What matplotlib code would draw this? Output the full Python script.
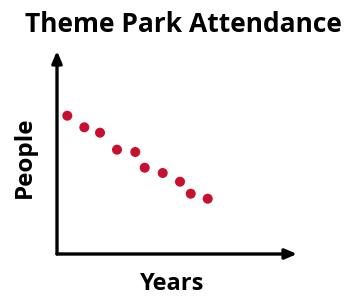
import matplotlib
matplotlib.use('Agg')
import matplotlib.pyplot as plt

# scatter data (arbitrary units)
years = [1.03, 2.73, 4.3, 6.0, 7.83, 8.77, 10.57, 12.3, 13.37, 15.07]
people = [13.83, 12.67, 12.13, 10.43, 10.2, 8.63, 8.1, 7.23, 6.03, 5.53]

title = 'Theme Park Attendance'
xlabel = 'Years'
ylabel = 'People'

plt.rcParams['font.family'] = ['Open Sans', 'DejaVu Sans']

fig = plt.figure(figsize=(3.56, 2.96), dpi=100)
ax = fig.add_axes([57 / 356, 42 / 296, 240 / 356, 203 / 296])
ax.set_xlim(0, 24)
ax.set_ylim(0, 20.3)
ax.axis('off')

ax.scatter(years, people, s=52, color='#c8102e', edgecolor='none', zorder=3)

# axis arrows
arrow = dict(arrowstyle='-|>,head_length=0.7,head_width=0.3', color='black', lw=2.4,
             shrinkA=0, shrinkB=0)
ax.annotate('', xy=(1, 0), xytext=(0, 0), xycoords='axes fraction', arrowprops=arrow)
ax.annotate('', xy=(0, 1), xytext=(0, 0), xycoords='axes fraction', arrowprops=arrow)

fig.text(183 / 356, 1 - 24 / 296, title, ha='center', va='center', fontsize=19, fontweight='bold')
fig.text(172 / 356, 1 - 284 / 296, xlabel, ha='center', va='center', fontsize=17, fontweight='bold')
fig.text(25 / 356, 1 - 157 / 296, ylabel, ha='center', va='center', fontsize=17.5, fontweight='bold',
         rotation=90)

fig.savefig('out.png', dpi=100)
